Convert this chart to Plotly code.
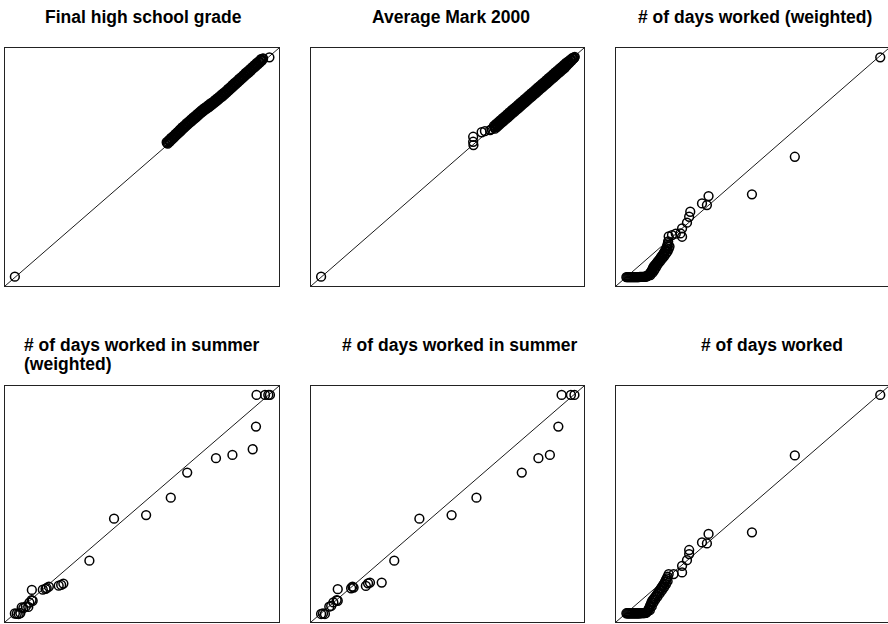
import plotly.graph_objects as go

# ---- data: QQ plot quantiles (control on x, treated on y), in plot units 0-100 ----
titles = ["Final high school grade", "Average Mark 2000", "# of days worked (weighted)",
          "# of days worked in summer (weighted)", "# of days worked in summer", "# of days worked"]

grade_x = [3.6,
           59.0, 59.4, 59.8, 60.2, 60.6, 61.0, 61.4, 61.8, 62.2, 62.6, 63.0, 63.4, 63.8, 64.2, 64.6,
           65.0, 65.4, 65.8, 66.2, 66.6, 67.0, 67.4, 67.8, 68.2, 68.6, 69.0, 69.4, 69.8, 70.2, 70.6,
           71.0, 71.4, 71.8, 72.2, 72.6, 73.0, 73.4, 73.8, 74.2, 74.6, 75.0, 75.4, 75.8, 76.2, 76.6,
           77.0, 77.4, 77.8, 78.2, 78.6, 79.0, 79.4, 79.8, 80.2, 80.6, 81.0, 81.4, 81.8, 82.2, 82.6,
           83.0, 83.4, 83.8, 84.2, 84.6, 85.0, 85.4, 85.8, 86.2, 86.6, 87.0, 87.4, 87.8, 88.2, 88.6,
           89.0, 89.4, 89.8, 90.2, 90.6, 91.0, 91.4, 91.8, 92.2, 92.6, 93.0, 93.4, 93.8, 94.2,
           96.5]
grade_y = [3.9,
           60.4, 59.8, 61.3, 60.7, 62.2, 61.6, 63.0, 62.5, 63.9, 63.4, 64.8, 64.2, 65.7, 65.1, 66.6,
           66.0, 67.4, 66.9, 68.3, 67.7, 69.1, 68.5, 69.9, 69.3, 70.7, 70.1, 71.5, 70.9, 72.3, 71.7,
           73.1, 72.5, 73.9, 73.3, 74.6, 74.0, 75.3, 74.6, 76.0, 75.3, 76.7, 76.0, 77.3, 76.7, 78.1,
           77.5, 78.8, 78.2, 79.6, 79.0, 80.4, 79.7, 81.1, 80.5, 81.9, 81.4, 82.8, 82.2, 83.6, 83.0,
           84.5, 83.9, 85.3, 84.7, 86.1, 85.6, 87.0, 86.4, 87.8, 87.2, 88.6, 88.1, 89.5, 88.9, 90.3,
           89.7, 91.1, 90.5, 92.0, 91.4, 92.8, 92.2, 93.6, 93.0, 94.4, 93.9, 95.3, 94.7, 95.6,
           96.1]
# middle quantiles of the dense band (between the two rows above)
grade_mid_x = [59.2, 59.6, 60.0, 60.4, 60.8, 61.2, 61.6, 62.0, 62.4, 62.8, 63.2, 63.6, 64.0, 64.4,
               64.8, 65.2, 65.6, 66.0, 66.4, 66.8, 67.2, 67.6, 68.0, 68.4, 68.8, 69.2, 69.6, 70.0,
               70.4, 70.8, 71.2, 71.6, 72.0, 72.4, 72.8, 73.2, 73.6, 74.0, 74.4, 74.8, 75.2, 75.6,
               76.0, 76.4, 76.8, 77.2, 77.6, 78.0, 78.4, 78.8, 79.2, 79.6, 80.0, 80.4, 80.8, 81.2,
               81.6, 82.0, 82.4, 82.8, 83.2, 83.6, 84.0, 84.4, 84.8, 85.2, 85.6, 86.0, 86.4, 86.8,
               87.2, 87.6, 88.0, 88.4, 88.8, 89.2, 89.6, 90.0, 90.4, 90.8, 91.2, 91.6, 92.0, 92.4,
               92.8, 93.2, 93.6, 94.0]
grade_mid_y = [60.1, 60.6, 61.0, 61.4, 61.9, 62.3, 62.8, 63.2, 63.6, 64.1, 64.5, 65.0, 65.4, 65.8,
               66.3, 66.7, 67.2, 67.6, 68.0, 68.4, 68.8, 69.2, 69.6, 70.0, 70.4, 70.8, 71.2, 71.6,
               72.0, 72.4, 72.8, 73.2, 73.6, 73.9, 74.3, 74.6, 75.0, 75.3, 75.6, 76.0, 76.3, 76.7,
               77.0, 77.4, 77.8, 78.1, 78.5, 78.9, 79.3, 79.7, 80.0, 80.4, 80.8, 81.2, 81.6, 82.1,
               82.5, 82.9, 83.3, 83.7, 84.2, 84.6, 85.0, 85.4, 85.8, 86.3, 86.7, 87.1, 87.5, 87.9,
               88.3, 88.8, 89.2, 89.6, 90.0, 90.4, 90.8, 91.3, 91.7, 92.1, 92.5, 92.9, 93.3, 93.7,
               94.2, 94.6, 95.0, 95.4]

mark_x = [3.7, 59.4, 59.4, 59.5, 62.5, 63.7, 65.6, 66.2,
          67.0, 67.4, 67.8, 68.2, 68.6, 69.0, 69.4, 69.8, 70.2, 70.6, 71.0, 71.4, 71.8, 72.2, 72.6,
          73.0, 73.4, 73.8, 74.2, 74.6, 75.0, 75.4, 75.8, 76.2, 76.6, 77.0, 77.4, 77.8, 78.2, 78.6,
          79.0, 79.4, 79.8, 80.2, 80.6, 81.0, 81.4, 81.8, 82.2, 82.6, 83.0, 83.4, 83.8, 84.2, 84.6,
          85.0, 85.4, 85.8, 86.2, 86.6, 87.0, 87.4, 87.8, 88.2, 88.6, 89.0, 89.4, 89.8, 90.2, 90.6,
          91.0, 91.4, 91.8, 92.2, 92.6, 93.0, 93.4, 93.8, 94.2, 94.6, 95.0, 95.4, 95.8, 96.2, 96.6]
mark_y = [3.9, 62.7, 60.6, 59.2, 64.6, 65.1, 65.5, 65.9,
          67.3, 66.1, 68.1, 66.9, 68.9, 67.7, 69.7, 68.5, 70.5, 69.3, 71.3, 70.1, 72.1, 70.9, 72.9,
          71.7, 73.7, 72.5, 74.5, 73.3, 75.3, 74.1, 76.1, 74.9, 76.9, 75.7, 77.7, 76.5, 78.5, 77.3,
          79.3, 78.1, 80.1, 78.9, 80.9, 79.7, 81.7, 80.5, 82.5, 81.3, 83.3, 82.1, 84.1, 82.9, 84.9,
          83.7, 85.7, 84.5, 86.5, 85.3, 87.3, 86.1, 88.1, 86.9, 88.9, 87.7, 89.7, 88.5, 90.5, 89.3,
          91.3, 90.1, 92.1, 90.9, 92.9, 91.7, 93.7, 92.7, 94.4, 93.7, 95.1, 94.6, 95.8, 95.6, 96.3]
mark_mid_x = [67.2, 67.6, 68.0, 68.4, 68.8, 69.2, 69.6, 70.0, 70.4, 70.8, 71.2, 71.6, 72.0, 72.4,
              72.8, 73.2, 73.6, 74.0, 74.4, 74.8, 75.2, 75.6, 76.0, 76.4, 76.8, 77.2, 77.6, 78.0,
              78.4, 78.8, 79.2, 79.6, 80.0, 80.4, 80.8, 81.2, 81.6, 82.0, 82.4, 82.8, 83.2, 83.6,
              84.0, 84.4, 84.8, 85.2, 85.6, 86.0, 86.4, 86.8, 87.2, 87.6, 88.0, 88.4, 88.8, 89.2,
              89.6, 90.0, 90.4, 90.8, 91.2, 91.6, 92.0, 92.4, 92.8, 93.2, 93.6, 94.0, 94.4, 94.8,
              95.2, 95.6, 96.0, 96.4]
mark_mid_y = [66.7, 67.1, 67.5, 67.9, 68.3, 68.7, 69.2, 69.5, 69.9, 70.3, 70.8, 71.1, 71.5, 71.9,
              72.3, 72.8, 73.1, 73.5, 73.9, 74.4, 74.7, 75.1, 75.5, 75.9, 76.4, 76.7, 77.1, 77.5,
              77.9, 78.3, 78.7, 79.2, 79.5, 79.9, 80.3, 80.7, 81.1, 81.6, 81.9, 82.3, 82.7, 83.1,
              83.5, 84.0, 84.3, 84.7, 85.1, 85.5, 85.9, 86.4, 86.7, 87.1, 87.5, 87.9, 88.3, 88.8,
              89.1, 89.5, 89.9, 90.3, 90.7, 91.2, 91.5, 91.9, 92.3, 92.7, 93.1, 93.6, 93.9, 94.3,
              94.7, 95.1, 95.5, 95.9]

days_w_x = [3.8, 4.15, 4.5, 4.85, 5.2, 5.55, 5.9, 6.25, 6.6, 6.95, 7.3, 7.65, 8.0, 8.35, 8.7,
            9.05, 9.4, 9.75, 10.1, 10.45, 10.8, 11.0,
            11.3, 11.6, 11.9, 12.2, 12.5, 12.8, 13.1, 13.3, 13.5, 13.7, 14.0, 14.3, 14.6, 14.9,
            15.2, 15.5, 15.8, 16.1, 16.4, 16.7, 17.0, 17.3, 17.6, 17.9, 18.2, 18.5, 18.7, 18.9,
            19.0, 19.1,
            12.6, 13.4, 14.0, 14.5, 15.0, 15.6, 16.3, 17.0, 17.7, 18.3, 18.9, 19.3, 19.6,
            19.3, 20.5, 21.9, 23.6, 24.2, 24.2, 26.0, 26.8, 27.2, 31.5, 33.3, 33.9, 49.8, 65.5, 96.8]
days_w_y = [3.7, 3.7, 3.7, 3.7, 3.7, 3.7, 3.7, 3.7, 3.7, 3.7, 3.7, 3.7, 3.7, 3.7, 3.8,
            3.8, 3.8, 3.8, 3.8, 3.9, 3.9, 4.0,
            4.1, 4.3, 4.6, 5.0, 5.4, 5.9, 6.4, 6.9, 7.4, 7.9, 8.4, 8.8, 9.2, 9.6,
            10.1, 10.5, 10.9, 11.4, 11.9, 12.4, 12.9, 13.4, 14.0, 14.6, 15.2, 15.9, 16.6, 17.3,
            18.0, 18.7,
            4.6, 5.6, 6.6, 7.6, 8.6, 9.6, 10.6, 11.6, 12.6, 13.6, 14.6, 15.6, 16.6,
            20.8, 21.4, 22.0, 22.1, 20.7, 24.2, 26.6, 29.1, 31.2, 34.7, 34.0, 37.8, 38.5, 54.3, 96.1]

summer_w_x = [3.6, 4.3, 5.0, 5.6, 6.1, 6.7, 7.6, 8.5, 8.9, 9.7, 10.1, 9.8, 13.8, 14.8, 15.2, 16.0,
              19.6, 20.5, 21.3, 30.8, 39.8, 51.5, 60.5, 66.5, 77.0, 83.0, 90.4, 91.6,
              91.8, 94.9, 96.1, 96.7]
summer_w_y = [3.6, 3.5, 3.4, 3.8, 6.2, 5.9, 6.6, 6.4, 8.2, 9.3, 9.0, 13.6, 13.7, 14.0, 14.4, 15.0,
              15.4, 15.7, 16.3, 26.0, 43.8, 45.3, 52.7, 63.3, 69.4, 70.8, 73.2, 82.8,
              96.2, 96.2, 96.2, 96.2]

summer_x = [3.7, 4.4, 5.1, 6.7, 7.4, 8.2, 9.4, 9.8, 9.8, 14.7, 15.2, 15.6, 20.1, 20.9, 21.6, 25.9,
            30.5, 39.7, 51.5, 60.6, 77.2, 83.3, 87.5, 90.6, 91.8, 95.2, 96.5]
summer_y = [3.4, 3.6, 3.4, 6.5, 6.8, 8.3, 9.3, 9.0, 13.9, 14.3, 15.0, 14.6, 15.3, 16.4, 16.7, 16.7,
            26.0, 43.8, 45.3, 52.7, 63.3, 69.4, 70.8, 82.8, 96.2, 96.2, 96.2]

days_x = [3.8, 4.15, 4.5, 4.85, 5.2, 5.55, 5.9, 6.25, 6.6, 6.95, 7.3, 7.65, 8.0, 8.35, 8.7,
          9.05, 9.4, 9.75, 10.1, 10.45, 10.8, 11.0,
          11.2, 11.5, 11.8, 12.0, 12.3, 12.5, 12.8, 13.0, 13.3, 13.7, 14.1, 14.5, 14.9, 15.3,
          15.7, 16.1, 16.5, 16.9, 17.3, 17.7, 18.0, 18.3, 18.6, 18.9,
          12.4, 13.1, 13.7, 14.4, 15.2, 16.0, 16.8, 17.6, 18.3, 18.9,
          19.3, 21.1, 24.2, 24.2, 26.0, 26.8, 26.8, 31.5, 33.3, 33.9, 49.8, 65.5, 96.8]
days_y = [3.7, 3.7, 3.7, 3.7, 3.7, 3.7, 3.7, 3.7, 3.7, 3.7, 3.7, 3.7, 3.7, 3.7, 3.7,
          3.8, 3.8, 3.8, 3.8, 3.8, 3.9, 4.0,
          4.1, 4.5, 5.0, 5.6, 6.2, 6.9, 7.6, 8.3, 9.0, 9.6, 10.2, 10.8, 11.5, 12.2,
          12.9, 13.6, 14.3, 15.0, 15.7, 16.4, 17.1, 17.8, 18.5, 19.2,
          5.0, 6.6, 8.2, 9.5, 10.8, 12.1, 13.4, 14.7, 16.0, 17.3,
          20.3, 20.3, 21.0, 23.8, 26.2, 28.8, 30.5, 33.7, 33.3, 37.3, 38.0, 70.6, 96.2]

panels = [(grade_x + grade_mid_x, grade_y + grade_mid_y),
          (mark_x + mark_mid_x, mark_y + mark_mid_y),
          (days_w_x, days_w_y),
          (summer_w_x, summer_w_y), (summer_x, summer_y), (days_x, days_y)]
for px_, py_ in panels:
    assert len(px_) == len(py_), (len(px_), len(py_))

# ---- layout geometry (pixels) ----
W, H = 888, 624
box_x = [(5, 279), (311, 584), (616, 889)]
box_y = [(48, 286), (386, 622)]

fig = go.Figure()
layout = dict(width=W, height=H, margin=dict(l=0, r=0, t=0, b=0),
              paper_bgcolor="white", plot_bgcolor="white", showlegend=False)

for i, (xs, ys) in enumerate(panels):
    r, c = divmod(i, 3)
    n = i + 1
    xa = "xaxis" if n == 1 else f"xaxis{n}"
    ya = "yaxis" if n == 1 else f"yaxis{n}"
    x0, x1 = box_x[c]
    y0, y1 = box_y[r]
    xr_hi = 100.0
    if x1 > W:
        xr_hi = 100.0 * (W - x0) / (x1 - x0)
        x1 = W
    layout[xa] = dict(domain=[x0 / W, x1 / W], range=[0, xr_hi], showgrid=False, zeroline=False,
                      showticklabels=False, ticks="", showline=True, mirror=True,
                      linecolor="#222", linewidth=1, anchor=f"y{n}" if n > 1 else "y")
    layout[ya] = dict(domain=[1 - y1 / H, 1 - y0 / H], range=[0, 100], showgrid=False, zeroline=False,
                      showticklabels=False, ticks="", showline=True, mirror=(c < 2),
                      linecolor="#222", linewidth=1, anchor=f"x{n}" if n > 1 else "x")
    xref = "x" if n == 1 else f"x{n}"
    yref = "y" if n == 1 else f"y{n}"
    # identity reference line across the axis range
    fig.add_trace(go.Scatter(x=[0, 100], y=[0, 100], mode="lines", xaxis=xref, yaxis=yref,
                             line=dict(color="black", width=0.9), hoverinfo="skip"))
    fig.add_trace(go.Scatter(x=xs, y=ys, mode="markers", xaxis=xref, yaxis=yref,
                             marker=dict(symbol="circle-open", size=8.8, color="black",
                                         line=dict(width=1.5))))

fig.update_layout(**layout)

font = dict(family="Liberation Sans, Arial, sans-serif", size=17.5, color="black")
title_pos = [(143, 17, "center"), (451, 17, "center"), (755, 17, "center"),
             (22, 345, "left"), (460, 345, "center"), (772, 345, "center")]
for i, t in enumerate(titles):
    px, py, anc = title_pos[i]
    if i == 3:
        parts = ["# of days worked in summer", "(weighted)"]
        for k, p in enumerate(parts):
            fig.add_annotation(text=f"<b>{p}</b>", x=px / W, y=1 - (py + 18.5 * k) / H,
                               xref="paper", yref="paper", xanchor="left", yanchor="middle",
                               showarrow=False, font=font)
    else:
        fig.add_annotation(text=f"<b>{t}</b>", x=px / W, y=1 - py / H, xref="paper", yref="paper",
                           xanchor=anc, yanchor="middle", showarrow=False, font=font)

fig.write_html("out.html", config={"displayModeBar": False},
               post_script="document.body.style.margin='0';document.body.style.overflow='hidden';")
